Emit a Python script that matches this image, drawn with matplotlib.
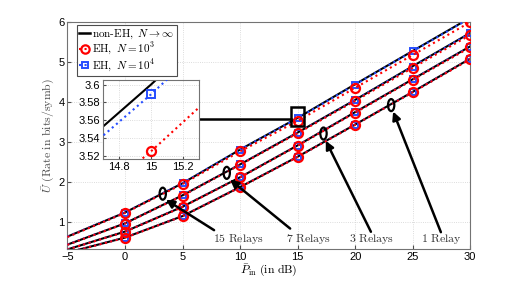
import matplotlib
matplotlib.use("Agg")
import matplotlib.pyplot as plt
from matplotlib.patches import Ellipse, Rectangle
from matplotlib.lines import Line2D

plt.rcParams['mathtext.fontset'] = 'cm'
plt.rcParams['font.family'] = ['Liberation Sans', 'DejaVu Sans']

# ---------------- data ----------------
p_line = [-5, 0, 5, 10, 15, 20, 25, 30]
p_mark = [0, 5, 10, 15, 20, 25, 30]

# non-EH, N -> inf (solid black), curves: 15, 7, 3, 1 relays
nonEH_15 = [0.64, 1.24, 1.97, 2.81, 3.600, 4.44, 5.27, 6.10]
nonEH_7 = [0.44, 0.97, 1.67, 2.44, 3.235, 4.05, 4.89, 5.72]
nonEH_3 = [0.32, 0.765, 1.385, 2.12, 2.915, 3.745, 4.565, 5.385]
nonEH_1 = [0.24, 0.615, 1.152, 1.875, 2.632, 3.435, 4.25, 5.08]

# EH, N = 10^4 (blue squares, dotted)
eh4_15 = [0.64, 1.24, 1.97, 2.81, 3.589, 4.43, 5.26, 6.09]
eh4_7 = [0.44, 0.97, 1.665, 2.44, 3.23, 4.045, 4.88, 5.71]
eh4_3 = [0.32, 0.763, 1.384, 2.12, 2.912, 3.74, 4.56, 5.38]
eh4_1 = [0.24, 0.614, 1.151, 1.874, 2.63, 3.433, 4.245, 5.075]

# EH, N = 10^3 (red circles, dotted)
eh3_15 = [0.63, 1.23, 1.95, 2.765, 3.525, 4.35, 5.17, 5.99]
eh3_7 = [0.435, 0.965, 1.66, 2.43, 3.218, 4.025, 4.85, 5.67]
eh3_3 = [0.315, 0.76, 1.38, 2.115, 2.905, 3.732, 4.55, 5.36]
eh3_1 = [0.235, 0.61, 1.148, 1.87, 2.625, 3.428, 4.24, 5.065]

relay_labels = ['15 Relays', '7 Relays', '3 Relays', '1 Relay']
xticks = [-5, 0, 5, 10, 15, 20, 25, 30]
yticks = [1, 2, 3, 4, 5, 6]
inset_xticks = [14.8, 15, 15.2]
inset_yticks = [3.52, 3.54, 3.56, 3.58, 3.6]

nonEH = [nonEH_15, nonEH_7, nonEH_3, nonEH_1]
eh4 = [eh4_15, eh4_7, eh4_3, eh4_1]
eh3 = [eh3_15, eh3_7, eh3_3, eh3_1]

BLUE = (0.15, 0.3, 1.0)
RED = (1.0, 0.0, 0.0)

fig = plt.figure(figsize=(5.19, 2.82), dpi=100)
ax = fig.add_axes([0.130, 0.117, 0.776, 0.806])


def draw(a, lw=1.5, ms_c=6.5, ms_s=5.0):
    for i in range(4):
        a.plot(p_line, nonEH[i], '-', color='k', lw=lw, zorder=2)
        a.plot(p_line, eh4[i], ':', color=BLUE, lw=lw, zorder=3)
        a.plot(p_mark, eh4[i][1:], 's', color=BLUE, mfc='none', mew=1.4, ms=ms_s, zorder=3)
        a.plot(p_line, eh3[i], ':', color=RED, lw=lw, zorder=4)
        a.plot(p_mark, eh3[i][1:], 'o', color=RED, mfc='none', mew=1.6, ms=ms_c, zorder=4)


draw(ax)
ax.set_xlim(-5, 30)
ax.set_ylim(0.33, 6)
ax.set_xticks(xticks)
ax.set_yticks(yticks)
ax.tick_params(direction='in', labelsize=8, length=3, pad=2, color='0.3')
ax.grid(True, linestyle=':', color='0.82', lw=0.6)
for s in ax.spines.values():
    s.set_color('0.45')

ax.set_xlabel(r'$\bar{P}_{\mathrm{in}}\ \mathrm{(in\ dB)}$', fontsize=8.5, labelpad=1)
ax.set_ylabel(r'$\bar{U}\ \mathrm{(Rate\ in\ bits/symb)}$', fontsize=8.5, labelpad=1, color='0.3')

# legend
lh = [Line2D([], [], color='k', lw=1.8),
      Line2D([], [], color=RED, ls=':', lw=1.5, marker='o', mfc='none', mew=1.6, ms=6),
      Line2D([], [], color=BLUE, ls=':', lw=1.5, marker='s', mfc='none', mew=1.4, ms=5)]
leg = ax.legend(lh, [r'$\mathrm{non\text{-}EH,}\ N\rightarrow\infty$',
                     r'$\mathrm{EH,}\ N=10^3$', r'$\mathrm{EH,}\ N=10^4$'],
                loc='upper left', bbox_to_anchor=(0.024, 0.985), borderaxespad=0,
                fontsize=8, handlelength=1.0, handletextpad=0.15, borderpad=0.2,
                labelspacing=0.05, fancybox=False, framealpha=1, edgecolor='0.3')
leg.get_frame().set_linewidth(0.8)

# ellipses and arrows
ell = [(3.28, 1.71), (8.84, 2.23), (17.25, 3.21), (23.13, 3.92)]
arrow_start = [(7.74, 0.80), (14.35, 0.84), (21.37, 0.76), (27.45, 0.75)]
arrow_end = [(3.55, 1.56), (9.13, 2.06), (17.45, 3.03), (23.3, 3.76)]
text_pos = [(9.85, 0.59), (15.95, 0.59), (21.4, 0.59), (27.45, 0.59)]
for i in range(4):
    ax.add_patch(Ellipse(ell[i], 0.55, 0.30, fill=False, lw=1.6, color='k', zorder=6))
    ax.annotate('', xy=arrow_end[i], xytext=arrow_start[i],
                arrowprops=dict(arrowstyle='-|>', lw=1.8, color='k', mutation_scale=12,
                                shrinkA=0, shrinkB=0), zorder=6)
    ax.text(text_pos[i][0], text_pos[i][1], r'$\mathrm{' + relay_labels[i].replace(' ', r'\ ') + '}$',
            fontsize=8.5, ha='center', va='center', color='0.2', zorder=7)

# zoom box and connector
ax.add_patch(Rectangle((14.41, 3.39), 1.16, 0.48, fill=False, lw=1.8, color='k', zorder=7))
ax.plot([6.4, 14.41], [3.572, 3.572], color='k', lw=1.8, zorder=7)

# inset
ins = fig.add_axes([0.198, 0.435, 0.186, 0.281])
draw(ins, lw=1.5, ms_c=6.5, ms_s=5.5)
ins.set_xlim(14.7, 15.3)
ins.set_ylim(3.516, 3.605)
ins.set_xticks(inset_xticks)
ins.set_xticklabels(['14.8', '15', '15.2'])
ins.set_yticks(inset_yticks)
ins.set_yticklabels(['3.52', '3.54', '3.56', '3.58', '3.6'])
ins.tick_params(direction='in', labelsize=8, length=2.5, pad=2, color='0.3')
ins.grid(True, linestyle=':', color='0.82', lw=0.6)
for s in ins.spines.values():
    s.set_color('0.45')

fig.savefig('out.png', dpi=100)
